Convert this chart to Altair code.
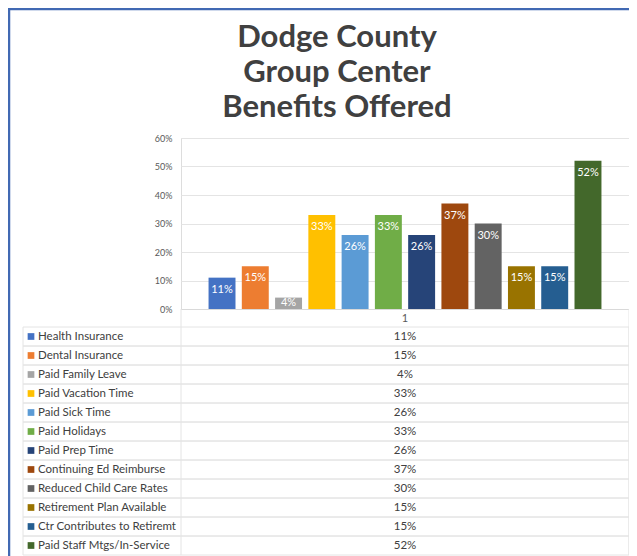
import altair as alt
import pandas as pd

TITLE_LINES = ["Dodge County", "Group Center", "Benefits Offered"]
CATEGORY = ["1"]
NAMES = [
    "Health Insurance", "Dental Insurance", "Paid Family Leave", "Paid Vacation Time",
    "Paid Sick Time", "Paid Holidays", "Paid Prep Time", "Continuing Ed Reimburse",
    "Reduced Child Care Rates", "Retirement Plan Available", "Ctr Contributes to Retiremt",
    "Paid Staff Mtgs/In-Service",
]
VALUES = [0.11, 0.15, 0.04, 0.33, 0.26, 0.33, 0.26, 0.37, 0.30, 0.15, 0.15, 0.52]
COLORS = [
    "#4472C4", "#ED7D31", "#A5A5A5", "#FFC000", "#5B9BD5", "#70AD47",
    "#264478", "#9E480E", "#636363", "#997300", "#255E91", "#43682B",
]
Y_TICKS = [0.0, 0.1, 0.2, 0.3, 0.4, 0.5, 0.6]

df = pd.DataFrame({"cat": CATEGORY * len(NAMES), "name": NAMES, "value": VALUES})
one = pd.DataFrame({"k": [0]})

FONT = "Lato"
GRID = "#e4e4e4"
TXT = "#404040"
TABLE_TOP = 189
TABLE_BOTTOM = 417

color = alt.Color("name:N", scale=alt.Scale(domain=NAMES, range=COLORS), legend=None)

x_enc = alt.X("cat:N", scale=alt.Scale(paddingInner=0, paddingOuter=0),
              axis=alt.Axis(title=None, labelAngle=0, labelFont=FONT, labelFontSize=11,
                            labelColor="#595959", labelPadding=3, ticks=False,
                            domainColor="#d9d9d9", grid=False))
xo_enc = alt.XOffset("name:N", sort=NAMES,
                     scale=alt.Scale(domain=NAMES, paddingInner=0.19, paddingOuter=0.828))
y_axis = alt.Axis(title=None, values=Y_TICKS, format=".0%", labelFont=FONT,
                  labelFontSize=9, labelColor="#595959", labelPadding=9,
                  domain=False, ticks=False, gridColor=GRID, labelOverlap=False)
y_scale = alt.Scale(domain=[0, 0.6], nice=False)

bars = alt.Chart(df).mark_bar().encode(
    x=x_enc, xOffset=xo_enc,
    y=alt.Y("value:Q", scale=y_scale, axis=y_axis), color=color)
labels = alt.Chart(df).transform_calculate(
    lab="max(datum.value, 0.0636)"
).mark_text(color="white", font=FONT, fontSize=11, dy=12, baseline="middle").encode(
    x=x_enc, xOffset=xo_enc,
    y=alt.Y("lab:Q", scale=y_scale, axis=y_axis),
    text=alt.Text("value:Q", format=".0%"))
top = alt.layer(bars, labels)

ty = alt.Y("name:N", sort=NAMES,
           scale=alt.Scale(domain=NAMES, range=[TABLE_TOP, TABLE_BOTTOM], paddingInner=0,
                           paddingOuter=0),
           axis=None)
rows = alt.Chart(df).mark_rect(fillOpacity=0, stroke=GRID, strokeWidth=1).encode(
    y=ty, x=alt.value(-158), x2=alt.value(448))
vline1 = alt.Chart(one).mark_rule(color=GRID).encode(
    x=alt.value(0), y=alt.value(171), y2=alt.value(TABLE_BOTTOM))
vline2 = alt.Chart(one).mark_rule(color=GRID).encode(
    x=alt.value(448), y=alt.value(171), y2=alt.value(TABLE_BOTTOM))
swatches = alt.Chart(df).mark_square(size=45, opacity=1).encode(
    y=ty, x=alt.value(-150), color=color)
names_t = alt.Chart(df).mark_text(align="left", baseline="middle", font=FONT,
                                  fontSize=11.5, color=TXT).encode(
    y=ty, x=alt.value(-143), text="name:N")
vals_t = alt.Chart(df).mark_text(align="center", baseline="middle", font=FONT,
                                 fontSize=11.5, color=TXT).encode(
    y=ty, x=alt.value(224), text=alt.Text("value:Q", format=".0%"))
table = alt.layer(rows, vline1, vline2, swatches, names_t, vals_t)

frame_top = alt.Chart(one).mark_rule(color="#4169b3", strokeWidth=2.5).encode(
    x=alt.value(-173), x2=alt.value(448), y=alt.value(-129))
frame_left = alt.Chart(one).mark_rule(color="#4169b3", strokeWidth=2.5).encode(
    x=alt.value(-172), y=alt.value(-129), y2=alt.value(TABLE_BOTTOM + 2))
frame = alt.layer(frame_top, frame_left)

chart = alt.layer(frame, top, table).resolve_scale(y="independent").properties(
    width=448, height=171,
    autosize=alt.AutoSizeParams(type="none"),
    padding={"left": 173, "top": 130, "right": 0, "bottom": 247},
    title=alt.TitleParams(text=TITLE_LINES, anchor="middle", frame="group", dx=-68,
                          offset=-116, fontSize=31, font=FONT, fontWeight="bold",
                          color=TXT, lineHeight=35),
).configure_view(stroke=None).configure(background="white")

chart.save("out.html", embed_options={"renderer": "svg", "actions": False})
